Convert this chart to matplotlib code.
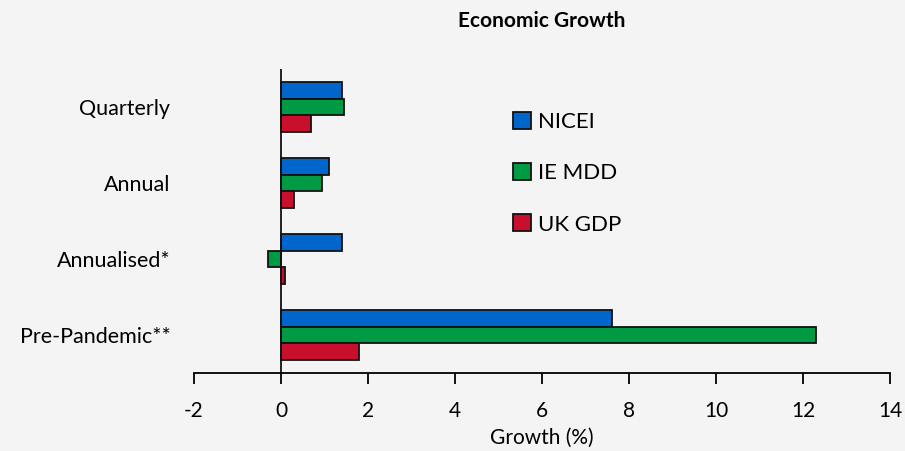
import matplotlib.pyplot as plt
import numpy as np

categories = ["Quarterly", "Annual", "Annualised*", "Pre-Pandemic**"]
series_names = ["NICEI", "IE MDD", "UK GDP"]
nicei = [1.4, 1.1, 1.4, 7.6]
ie_mdd = [1.45, 0.95, -0.3, 12.3]
uk_gdp = [0.7, 0.3, 0.1, 1.8]
colors = ["#0066CC", "#009A44", "#C8102E"]

plt.rcParams["font.family"] = ["Lato", "DejaVu Sans"]
plt.rcParams["axes.unicode_minus"] = False

fig = plt.figure(figsize=(9.05, 4.51), dpi=100, facecolor="#f4f4f4")
ax = fig.add_axes([194 / 905, 78 / 451, 696 / 905, 304 / 451])
ax.set_facecolor("#f4f4f4")

y = np.arange(len(categories))
h = 0.223
for i, (vals, name) in enumerate(zip([nicei, ie_mdd, uk_gdp], series_names)):
    ax.barh(y + (i - 1) * h, vals, height=h, color=colors[i],
            edgecolor="#111111", linewidth=1.3, label=name)

ax.set_xlim(-2, 14)
ax.set_ylim(len(categories) - 0.5, -0.5)
ax.set_xticks(range(-2, 15, 2))
ax.set_yticks(y)
ax.set_yticklabels(categories)
ax.axvline(0, color="#111111", linewidth=1.3)

for s in ["top", "right", "left"]:
    ax.spines[s].set_visible(False)
ax.spines["bottom"].set_linewidth(1.3)
ax.tick_params(axis="x", direction="out", length=8, width=1.3, labelsize=15, pad=12)
ax.tick_params(axis="y", length=0, labelsize=15.5, pad=17)

ax.set_xlabel("Growth (%)", fontsize=15, labelpad=5)
ax.set_title("Economic Growth", fontsize=15, fontweight="bold", pad=30)

ax.legend(loc="upper left", bbox_to_anchor=(0.43, 0.925), frameon=False,
          fontsize=16, handlelength=0.8, handleheight=0.8, handletextpad=0.3,
          labelspacing=1.4)

fig.savefig("out.png", dpi=100, facecolor=fig.get_facecolor())
